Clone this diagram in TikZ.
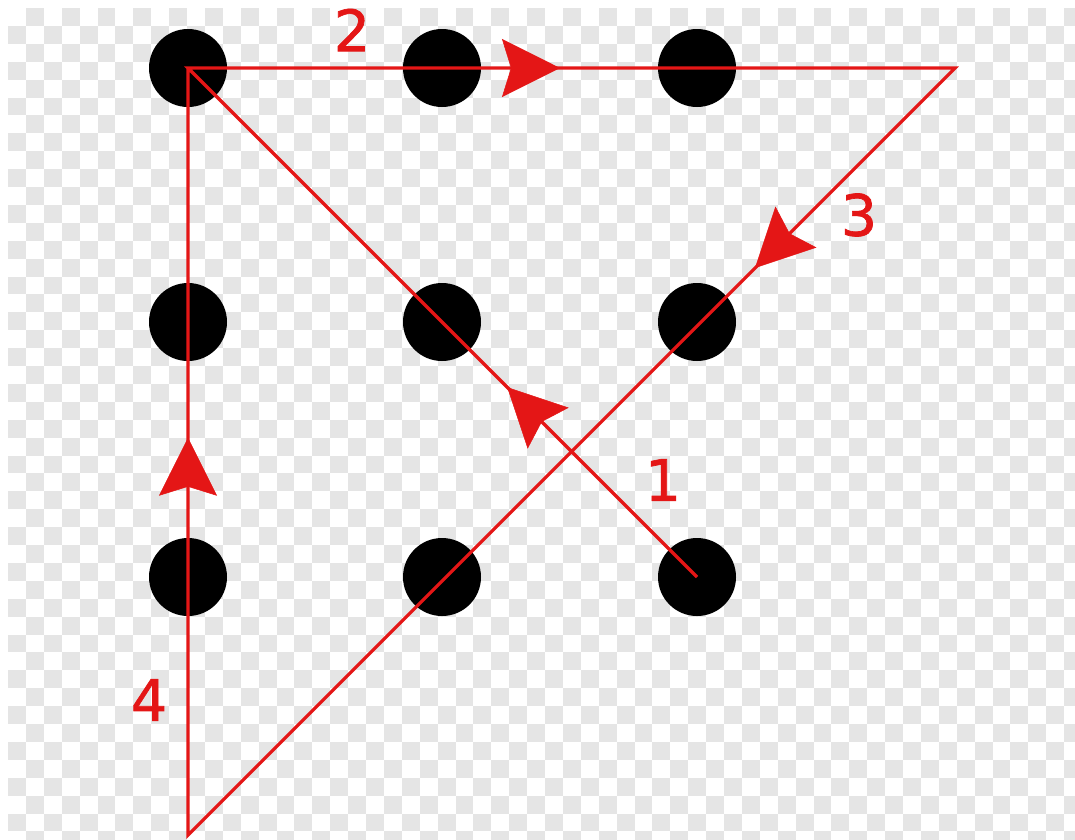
\documentclass[tikz,border=0pt]{standalone}
\usepackage{fontspec}
\setmainfont{DejaVu Sans}
\newfontfamily\numfont[FakeBold=1.2]{DejaVu Sans}
\usetikzlibrary{arrows.meta,decorations.markings}
\definecolor{pathred}{RGB}{228,22,22}
\definecolor{chk}{RGB}{229,229,229}
\begin{document}
\begin{tikzpicture}[x=1pt,y=-1pt,dot/.style={circle,fill=black,minimum size=78pt,inner sep=0pt},route/.style={draw=pathred,line width=3.2pt,line join=miter},midarrow/.style={postaction={decorate},decoration={markings,mark=at position #1 with {\arrow[pathred,line width=0.5pt]{Stealth[length=58pt,width=58pt,inset=9pt]}}}},num/.style={text=pathred,font=\numfont\fontsize{57}{57}\selectfont,inner sep=0pt}]
\useasboundingbox (0,0) rectangle (1075,839);
\fill[white] (0,0) rectangle (1075,839);
\begin{scope}
\clip (8,8) rectangle (1075,839);
\foreach \i in {0,...,59} \foreach \j in {0,...,46} {\pgfmathparse{int(mod(\i+\j,2))}\ifnum\pgfmathresult=1 \fill[chk] ({8+17.9*\i},{8+17.9*\j}) rectangle +(17.9,17.9);\fi}
\end{scope}
\foreach \c/\x in {1/188,2/442,3/697} \foreach \r/\y in {1/68,2/322,3/577} \node[dot] (d\r\c) at (\x,\y) {};
\coordinate (tr) at (955,68);
\coordinate (bl) at (188,835);
\draw[route] (d33.center) -- (d11.center) -- (tr) -- (bl) -- (d11.center);
\path[midarrow=0.373] (d33.center) -- (d11.center);
\path[midarrow=0.485] (d11.center) -- (tr);
\path[midarrow=0.261] (tr) -- (bl);
\path[midarrow=0.518] (bl) -- (d11.center);
\node[num] (n1) at (663,480) {1};
\node[num] (n2) at (352,30) {2};
\node[num] (n3) at (859,215) {3};
\node[num] (n4) at (149,700) {4};
\end{tikzpicture}
\end{document}
